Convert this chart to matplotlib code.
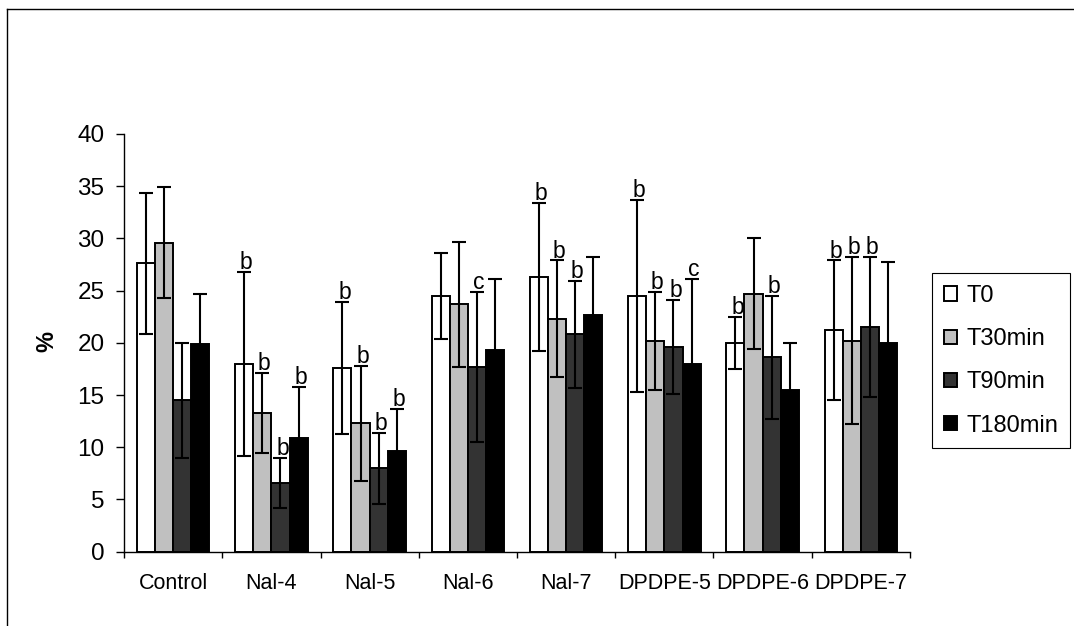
import matplotlib
matplotlib.use("Agg")
import matplotlib.pyplot as plt
from matplotlib.patches import Patch
from matplotlib.lines import Line2D
import numpy as np

plt.rcParams['font.family'] = ['Liberation Sans', 'DejaVu Sans']

categories = ["Control", "Nal-4", "Nal-5", "Nal-6", "Nal-7", "DPDPE-5", "DPDPE-6", "DPDPE-7"]
series_names = ["T0", "T30min", "T90min", "T180min"]

t0_vals = [27.6, 18.0, 17.6, 24.5, 26.3, 24.5, 20.0, 21.2]
t30_vals = [29.6, 13.3, 12.3, 23.7, 22.3, 20.2, 24.7, 20.2]
t90_vals = [14.5, 6.6, 8.0, 17.7, 20.8, 19.6, 18.6, 21.5]
t180_vals = [19.9, 10.9, 9.6, 19.3, 22.7, 18.0, 15.5, 20.0]

t0_err = [6.75, 8.8, 6.3, 4.1, 7.1, 9.2, 2.5, 6.7]
t30_err = [5.3, 3.85, 5.5, 6.0, 5.6, 4.7, 5.3, 8.0]
t90_err = [5.5, 2.4, 3.4, 7.2, 5.1, 4.5, 5.9, 6.7]
t180_err = [4.8, 4.9, 4.1, 6.8, 5.5, 8.1, 4.5, 7.7]

t0_marks = ["", "b", "b", "", "b", "b", "b", "b"]
t30_marks = ["", "b", "b", "", "b", "b", "", "b"]
t90_marks = ["", "b", "b", "c", "b", "b", "b", "b"]
t180_marks = ["", "b", "b", "", "", "c", "", ""]

values = [t0_vals, t30_vals, t90_vals, t180_vals]
errors = [t0_err, t30_err, t90_err, t180_err]
marks = [t0_marks, t30_marks, t90_marks, t180_marks]
colors = ["#FFFFFF", "#C0C0C0", "#333333", "#000000"]

fig = plt.figure(figsize=(10.74, 6.26), dpi=100)
ax = fig.add_axes([124/1074, 1-551.7/626, (910-124)/1074, (551.7-134)/626])

x = np.arange(len(categories))
w = 0.185

for i, (vals, errs, mk, col) in enumerate(zip(values, errors, marks, colors)):
    xpos = x + (i - 1.5) * w
    ax.bar(xpos, vals, width=w, color=col, edgecolor="black", linewidth=1.4, zorder=2,
           label=series_names[i])
    ax.errorbar(xpos, vals, yerr=errs, fmt='none', ecolor='black', elinewidth=1.5,
                capsize=5, capthick=1.5, zorder=3)
    for xp, v, e, m in zip(xpos, vals, errs, mk):
        if m:
            ax.annotate(m, (xp, v + e), xytext=(1.5, 2), textcoords='offset points',
                        ha='center', va='baseline', fontsize=16.5, zorder=4)

ax.set_xlim(-0.5, len(categories) - 0.5)
ax.set_ylim(0, 40)
ax.set_yticks(np.arange(0, 41, 5))
ax.tick_params(axis='y', direction='out', length=6, width=1, pad=8, labelsize=17.5)

ax.set_xticks(np.arange(-0.5, len(categories), 1.0))
ax.set_xticklabels([])
ax.tick_params(axis='x', which='major', direction='out', length=4.5, width=1)
ax.set_xticks(x, minor=True)
ax.set_xticklabels(categories, minor=True, fontsize=15.5)
ax.tick_params(axis='x', which='minor', length=0, pad=15)

for s in ['top', 'right']:
    ax.spines[s].set_visible(False)
ax.spines['left'].set_linewidth(1)
ax.spines['bottom'].set_linewidth(1)

fig.text(47/1074, 1-342/626, "%", rotation=90, fontsize=17, fontweight='bold',
         ha='center', va='center')

handles = [Patch(facecolor=c, edgecolor='black', linewidth=1.4) for c in colors]
leg = fig.legend(handles, series_names, loc='upper left',
                 bbox_to_anchor=(932/1074, 1-273/626), fontsize=17,
                 frameon=True, fancybox=False, framealpha=1, edgecolor='black',
                 handlelength=0.55, handleheight=0.55, handletextpad=0.4,
                 labelspacing=0.9, borderpad=0.5, borderaxespad=0)
leg.get_frame().set_linewidth(0.8)

# outer chart frame (left and top visible)
fig.add_artist(Line2D([7/1074, 7/1074], [0, 1-9/626], color='black', linewidth=1,
                      transform=fig.transFigure))
fig.add_artist(Line2D([7/1074, 1], [1-9/626, 1-9/626], color='black', linewidth=1,
                      transform=fig.transFigure))

fig.savefig("out.png", dpi=100)
